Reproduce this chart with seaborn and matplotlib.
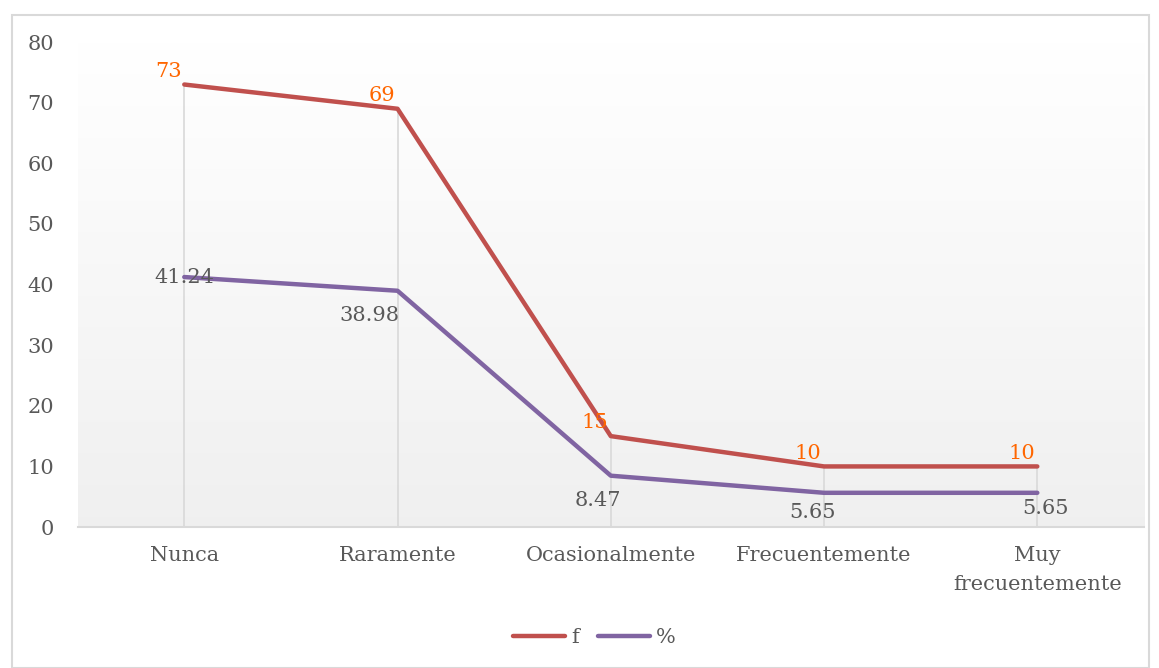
import numpy as np
import pandas as pd
import matplotlib
matplotlib.use("Agg")
import matplotlib.pyplot as plt
import seaborn as sns
from matplotlib.patches import Rectangle
from matplotlib.lines import Line2D

categories = ["Nunca", "Raramente", "Ocasionalmente", "Frecuentemente", "Muy\nfrecuentemente"]
f_values = [73, 69, 15, 10, 10]
pct_values = [41.24, 38.98, 8.47, 5.65, 5.65]
pct_labels = ["41.24", "38.98", "8.47", "5.65", "5.65"]

sns.set_style("white")
plt.rcParams["font.family"] = ["DejaVu Serif"]

RED = "#C0504D"
PURPLE = "#8064A2"
ORANGE = "#FF6600"
TXT = "#595959"

df = pd.DataFrame({
    "cat": categories * 2,
    "x": list(range(len(categories))) * 2,
    "value": f_values + pct_values,
    "serie": ["f"] * len(categories) + ["%"] * len(categories),
})

fig = plt.figure(figsize=(11.59, 6.68), dpi=100)
fig.patches.append(Rectangle((0.01, 0.0), 0.981, 0.978, transform=fig.transFigure,
                             fill=False, edgecolor="#D9D9D9", linewidth=1.5))
ax = fig.add_axes([0.067, 0.211, 0.92, 0.726])

# background gradient (white at top -> light grey at bottom)
shade = np.linspace(0.94, 1.0, 256)
grad = np.dstack([shade, shade, shade]).reshape(256, 1, 3)
ax.imshow(grad, extent=(-0.5, 4.5, 0, 80), aspect="auto", origin="lower", zorder=0)

# drop lines
for i, v in enumerate(f_values):
    ax.plot([i, i], [0, v], color="#D9D9D9", lw=1.2, zorder=1)

sns.lineplot(data=df, x="x", y="value", hue="serie", palette={"f": RED, "%": PURPLE},
             linewidth=3.2, ax=ax, legend=False, zorder=3, solid_capstyle="round")

for i, v in enumerate(f_values):
    ax.annotate(str(v), (i, v), xytext=(-11.5, 9.5), textcoords="offset points",
                ha="center", va="center", color=ORANGE, fontsize=15)

pct_offsets = [(0, 0), (-20, -18), (-9.4, -18), (-8.6, -14.4), (5.8, -11.5)]
for i, (v, lab) in enumerate(zip(pct_values, pct_labels)):
    dx, dy = pct_offsets[i]
    ax.annotate(lab, (i, v), xytext=(dx, dy), textcoords="offset points",
                ha="center", va="center", color=TXT, fontsize=15, zorder=4)

ax.set_xlim(-0.5, 4.5)
ax.set_ylim(0, 80)
ax.set_yticks(range(0, 81, 10))
ax.set_xticks(range(len(categories)))
ax.set_xticklabels(categories)
for lab in ax.get_xticklabels():
    lab.set_linespacing(1.65)
ax.tick_params(axis="both", length=0, labelsize=15, colors=TXT)
ax.tick_params(axis="x", pad=14)
ax.tick_params(axis="y", pad=17)
for s in ["top", "right", "left"]:
    ax.spines[s].set_visible(False)
ax.spines["bottom"].set_color("#D9D9D9")
ax.spines["bottom"].set_linewidth(1.5)
ax.set_xlabel("")
ax.set_ylabel("")

handles = [Line2D([], [], color=RED, lw=3.2, solid_capstyle="round"),
           Line2D([], [], color=PURPLE, lw=3.2, solid_capstyle="round")]
fig.legend(handles, ["f", "%"], loc="center", bbox_to_anchor=(0.513, 0.045), ncol=2,
           frameon=False, fontsize=15, handlelength=2.5, handletextpad=0.3,
           columnspacing=0.9, labelcolor=TXT)

fig.savefig("out.png", dpi=100)
